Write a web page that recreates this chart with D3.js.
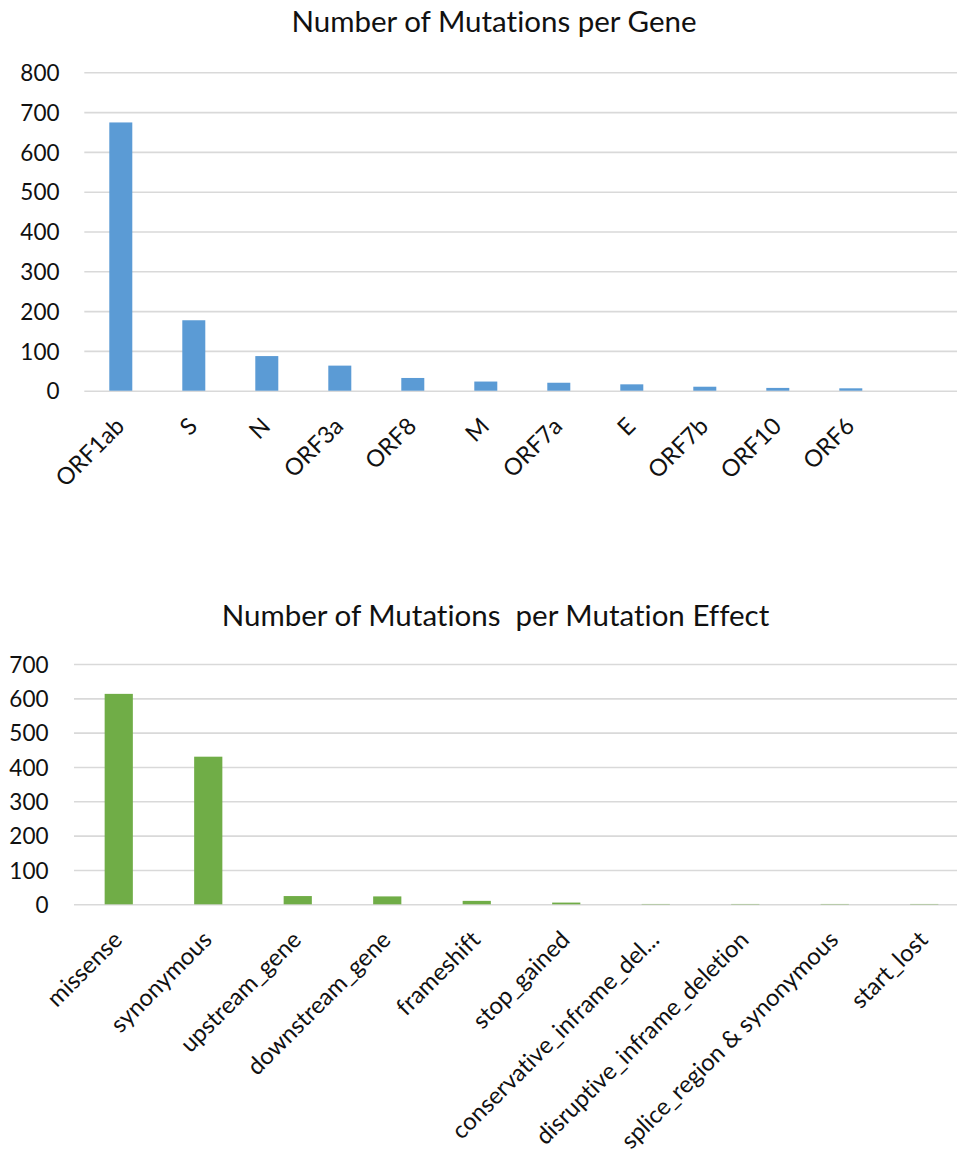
<!DOCTYPE html>
<html>
<head>
<meta charset="utf-8">
<script src="https://cdn.jsdelivr.net/npm/d3@7"></script>
<style>
  html, body { margin: 0; padding: 0; background: #fff; }
  svg { display: block; }
  text { font-family: Lato, "Open Sans", sans-serif; fill: #111; font-variant-ligatures: none; font-feature-settings: "liga" 0, "clig" 0; }
</style>
</head>
<body>
<svg id="chart" width="957" height="1157"></svg>
<script>
// ---- Data ----
const geneTitle = "Number of Mutations per Gene";
const geneCategories = ["ORF1ab", "S", "N", "ORF3a", "ORF8", "M", "ORF7a", "E", "ORF7b", "ORF10", "ORF6"];
const geneCounts = [674, 177, 87, 63, 32, 23, 20, 16, 10, 7, 6];
const geneTicks = [0, 100, 200, 300, 400, 500, 600, 700, 800];

const effectTitle = "Number of Mutations\u00A0 per Mutation Effect";
const effectCategories = ["missense", "synonymous", "upstream_gene", "downstream_gene", "frameshift", "stop_gained", "conservative_inframe_del...", "disruptive_inframe_deletion", "splice_region & synonymous", "start_lost"];
const effectCounts = [613, 430, 24, 23, 10, 5, 1, 1, 1, 1];
const effectTicks = [0, 100, 200, 300, 400, 500, 600, 700];

const svg = d3.select("#chart");

function drawChart(cfg) {
  const g = svg.append("g");
  const x = d3.scaleBand()
    .domain(cfg.categories)
    .range([cfg.left, cfg.left + cfg.step * cfg.categories.length])
    .paddingInner(0.685)
    .paddingOuter(0.685 / 2);
  const y = d3.scaleLinear()
    .domain([0, d3.max(cfg.ticks)])
    .range([cfg.bottom, cfg.top]);

  // gridlines
  const grid = g.append("g")
    .attr("transform", `translate(${cfg.left},0)`)
    .call(d3.axisLeft(y).tickValues(cfg.ticks).tickSize(-(cfg.gridRight - cfg.left)).tickFormat(""));
  grid.select(".domain").remove();
  grid.selectAll(".tick line").attr("stroke", "#d9d9d9").attr("stroke-width", 1.6);

  // y tick labels
  const ya = g.append("g")
    .attr("transform", `translate(${cfg.labelRight},0)`)
    .call(d3.axisLeft(y).tickValues(cfg.ticks).tickSize(0).tickPadding(0).tickFormat(d3.format("d")));
  ya.select(".domain").remove();
  ya.selectAll("text")
    .attr("font-family", "Lato, sans-serif")
    .attr("font-size", cfg.fontSize)
    .attr("fill", "#111")
    .attr("dy", "0.36em");

  // bars
  g.append("g").selectAll("rect")
    .data(cfg.values)
    .join("rect")
    .attr("x", (d, i) => x(cfg.categories[i]))
    .attr("width", x.bandwidth())
    .attr("y", d => y(d))
    .attr("height", d => y(0) - y(d))
    .attr("fill", cfg.color);

  // x labels
  const xa = g.append("g")
    .attr("transform", `translate(0,${cfg.bottom})`)
    .call(d3.axisBottom(x).tickSize(0).tickPadding(0));
  xa.select(".domain").remove();
  xa.selectAll("text")
    .attr("font-family", "Lato, sans-serif")
    .attr("font-size", cfg.xFontSize)
    .attr("fill", "#111")
    .attr("text-anchor", "end")
    .attr("y", 0)
    .attr("dy", 0)
    .attr("transform", `translate(5,37) rotate(-45)`);

  // title
  g.append("text")
    .attr("x", cfg.titleX)
    .attr("y", cfg.titleY)
    .attr("text-anchor", "middle")
    .attr("font-size", cfg.titleSize)
    .text(cfg.title);
}

drawChart({
  title: geneTitle, categories: geneCategories, values: geneCounts, ticks: geneTicks,
  left: 84.3, step: 73, top: 72.3, bottom: 390.7, gridRight: 957, labelRight: 59.5,
  color: "#5b9bd5", fontSize: 22.5, xFontSize: 23.5, titleX: 494, titleY: 32, titleSize: 29.5
});

drawChart({
  title: effectTitle, categories: effectCategories, values: effectCounts, ticks: effectTicks,
  left: 74, step: 89.5, top: 664, bottom: 904.3, gridRight: 957, labelRight: 48.5,
  color: "#70ad47", fontSize: 22.5, xFontSize: 23.8, titleX: 495.5, titleY: 626, titleSize: 29.5
});
</script>
</body>
</html>
